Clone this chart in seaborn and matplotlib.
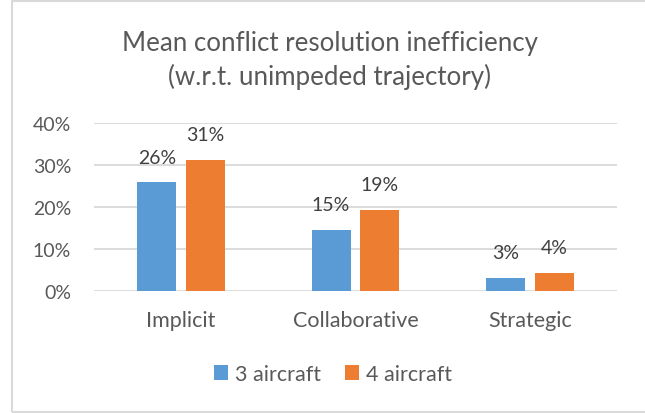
import matplotlib.pyplot as plt
import seaborn as sns
import pandas as pd
from matplotlib.patches import Rectangle, Patch

# 数据
methods = ['Implicit', 'Collaborative', 'Strategic']
aircraft_3 = [0.259, 0.146, 0.031]
aircraft_4 = [0.313, 0.193, 0.044]
series_names = ['3 aircraft', '4 aircraft']

df = pd.DataFrame({'Method': methods * 2,
                   'Series': [series_names[0]] * 3 + [series_names[1]] * 3,
                   'Value': aircraft_3 + aircraft_4})

palette = {'3 aircraft': '#5B9BD5', '4 aircraft': '#ED7D31'}
text_col = '#595959'

sns.set_style('white')
plt.rcParams['font.family'] = ['Lato', 'DejaVu Sans']

fig = plt.figure(figsize=(6.45, 4.14), dpi=100)
ax = fig.add_axes([94 / 645, 1 - 292 / 414, 523 / 645, 168 / 414])

sns.barplot(data=df, x='Method', y='Value', hue='Series', palette=palette,
            width=0.56, gap=0.2, ax=ax, legend=False, saturation=1, edgecolor='none')

ax.set_ylim(0, 0.40)
ax.set_xlim(-0.5, 2.5)
ax.set_yticks([0, 0.1, 0.2, 0.3, 0.4])
ax.set_yticklabels(['0%', '10%', '20%', '30%', '40%'])
ax.grid(axis='y', color='#D9D9D9', linewidth=1.3)
ax.set_axisbelow(True)
for s in ax.spines.values():
    s.set_visible(False)
ax.tick_params(axis='both', length=0, colors=text_col)
ax.tick_params(axis='y', labelsize=14, pad=16.5)
ax.tick_params(axis='x', labelsize=15.5, pad=14)
ax.set_xlabel('')
ax.set_ylabel('')

# 数据标签
for cont in ax.containers:
    ax.bar_label(cont, labels=[f'{v * 100:.0f}%' for v in cont.datavalues],
                 padding=12, fontsize=14, color='#404040')

fig.text(0.511, 1 - 44 / 414, 'Mean conflict resolution inefficiency',
         ha='center', va='center', fontsize=18.6, color=text_col)
fig.text(0.511, 1 - 77 / 414, '(w.r.t. unimpeded trajectory)',
         ha='center', va='center', fontsize=18.6, color=text_col)

handles = [Patch(facecolor=palette[n], edgecolor='none') for n in series_names]
fig.legend(handles, series_names, loc='center', bbox_to_anchor=(333 / 645, 1 - 375 / 414),
           ncol=2, frameon=False, fontsize=15.5, labelcolor=text_col,
           handlelength=0.65, handleheight=0.65, handletextpad=0.33, columnspacing=1.1)

# 图表边框
fig.patches.append(Rectangle((12 / 645, 1 / 414), 640 / 645, 411 / 414,
                             transform=fig.transFigure, fill=False,
                             edgecolor='#D9D9D9', linewidth=1.5))

fig.savefig('out.png', dpi=100)
